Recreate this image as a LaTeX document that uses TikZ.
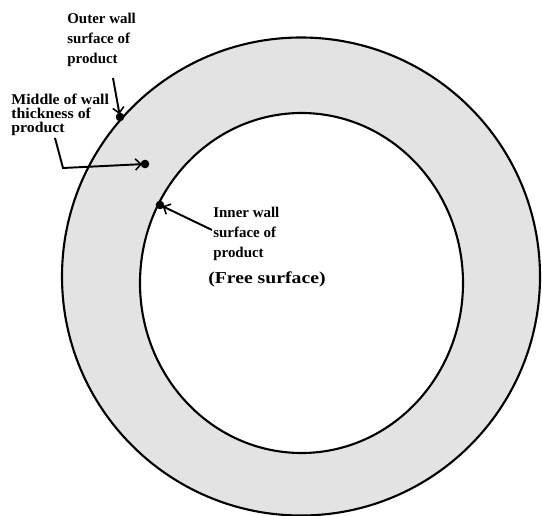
\documentclass[tikz,border=0pt]{standalone}
\usepackage{fontspec}
\setmainfont{Liberation Serif}
\newfontfamily\widefont[FakeStretch=1.18]{Liberation Serif}
\newfontfamily\midfont[FakeStretch=1.06]{Liberation Serif}
\usetikzlibrary{arrows.meta}

\begin{document}
\begin{tikzpicture}[scale=0.2]
\tikzstyle{every node}+=[inner sep=0pt]
\tikzstyle{lbl}=[anchor=north west, align=left, font=\fontsize{8.5}{11.2}\selectfont\bfseries]
\tikzstyle{dot}=[circle, fill=black, minimum size=4.9pt]
\tikzstyle{ptr}=[black, line width=1.1pt, -{Straight Barb[length=3.2pt,width=6.4pt,line width=0.9pt]}, shorten >=-1pt]
\useasboundingbox (0,0) rectangle (54.2,-51.6);
% wall of the product
\draw [black, line width=1.2pt, fill=black!11] (30.1,-27.65) circle (23.9);
\draw [black, line width=1.2pt, fill=white] (30.15,-28.3) ellipse (16.15 and 17.0);
% points on the wall
\node [dot] (outerdot) at (12.0,-11.7) {};
\node [dot] (middot) at (14.5,-16.4) {};
\node [dot] (innerdot) at (16.0,-20.5) {};
% labels
\node [lbl] (outerlbl) at (6.7,-1.3) {Outer wall\\surface of\\product};
\node [lbl, font=\fontsize{8.5}{8}\selectfont\midfont\bfseries] (midlbl) at (1.1,-9.4) {Middle of wall\\thickness of\\product};
\node [lbl] (innerlbl) at (21.3,-20.7) {Inner wall\\surface of\\product};
\node [lbl, font=\fontsize{9.5}{11}\selectfont\widefont\bfseries] (freelbl) at (20.8,-27.1) {(Free surface)};
% pointers
\coordinate (outertail) at (11.3,-7.8);
\coordinate (midtail) at (5.5,-13.8);
\coordinate (midbend) at (6.3,-16.8);
\coordinate (innertail) at (21.2,-23.0);
\draw [ptr] (outertail) -- (outerdot);
\draw [ptr] (midtail) -- (midbend) -- (middot);
\draw [ptr] (innertail) -- (innerdot);
\end{tikzpicture}
\end{document}
